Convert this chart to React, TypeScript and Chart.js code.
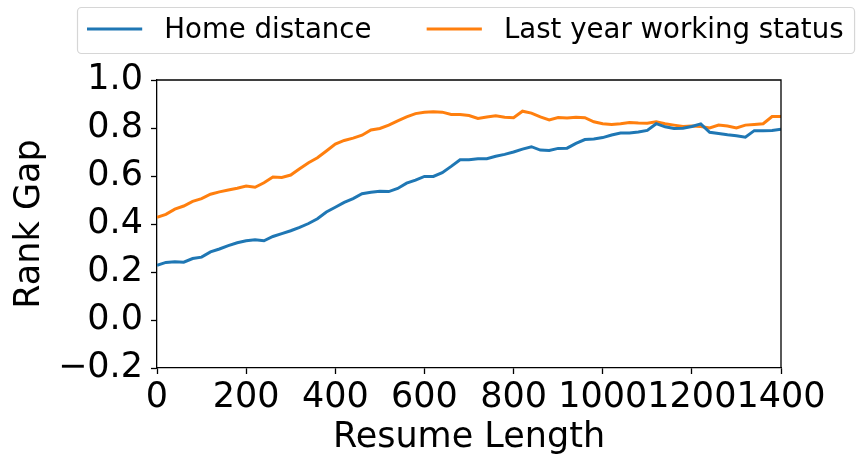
import React, { useEffect, useRef } from "react";
import { Chart, registerables } from "chart.js";

Chart.register(...registerables);

const RESUME_LENGTH = [
  0, 20, 40, 60, 80, 100, 120, 140, 160, 180, 200, 220, 240, 260, 280, 300, 320, 340, 360, 380,
  400, 420, 440, 460, 480, 500, 520, 540, 560, 580, 600, 620, 640, 660, 680, 700, 720, 740, 760, 780,
  800, 820, 840, 860, 880, 900, 920, 940, 960, 980, 1000, 1020, 1040, 1060, 1080, 1100, 1120, 1140, 1160, 1180,
  1200, 1220, 1240, 1260, 1280, 1300, 1320, 1340, 1360, 1380, 1400,
];

const HOME_DISTANCE = [
  0.228, 0.24, 0.243, 0.241, 0.256, 0.262, 0.284, 0.296, 0.31, 0.322, 0.33, 0.334, 0.33, 0.348, 0.36, 0.372, 0.386, 0.402, 0.422, 0.45,
  0.47, 0.49, 0.506, 0.526, 0.532, 0.536, 0.535, 0.548, 0.57, 0.583, 0.598, 0.598, 0.614, 0.64, 0.668, 0.668, 0.672, 0.672, 0.682, 0.69,
  0.7, 0.712, 0.722, 0.708, 0.706, 0.715, 0.716, 0.736, 0.752, 0.754, 0.76, 0.771, 0.779, 0.779, 0.783, 0.79, 0.818, 0.805, 0.798, 0.799,
  0.806, 0.817, 0.782, 0.777, 0.772, 0.768, 0.762, 0.789, 0.789, 0.79, 0.795,
];

const LAST_YEAR_WORKING = [
  0.428, 0.44, 0.462, 0.475, 0.494, 0.506, 0.524, 0.534, 0.542, 0.549, 0.558, 0.553, 0.572, 0.596, 0.594, 0.604, 0.63, 0.655, 0.676, 0.704,
  0.733, 0.748, 0.758, 0.77, 0.792, 0.798, 0.812, 0.83, 0.846, 0.86, 0.866, 0.868, 0.866, 0.856, 0.856, 0.852, 0.84, 0.846, 0.851, 0.845,
  0.843, 0.87, 0.862, 0.846, 0.834, 0.844, 0.842, 0.845, 0.843, 0.826, 0.818, 0.815, 0.818, 0.823, 0.821, 0.82, 0.826, 0.818, 0.812, 0.806,
  0.808, 0.806, 0.8, 0.812, 0.808, 0.8, 0.812, 0.815, 0.818, 0.848, 0.848,
];

const SERIES_NAMES = ["Home distance", "Last year working status"];
const SERIES_COLORS = ["#1f77b4", "#ff7f0e"];
const X_TITLE = "Resume Length";
const Y_TITLE = "Rank Gap";

const FONT = "'DejaVu Sans', sans-serif";

const framePlugin = {
  id: "frame",
  afterDraw(chart: any) {
    const { ctx, chartArea } = chart;
    ctx.save();
    ctx.strokeStyle = "#000";
    ctx.lineWidth = 1.3;
    ctx.beginPath();
    ctx.moveTo(chartArea.left, chartArea.top);
    ctx.lineTo(chartArea.right, chartArea.top);
    ctx.lineTo(chartArea.right, chartArea.bottom);
    ctx.stroke();
    ctx.restore();
  },
};

const legendPlugin = {
  id: "mplLegend",
  afterDraw(chart: any) {
    const ctx = chart.ctx;
    ctx.save();
    const fs = 27.6;
    ctx.font = `${fs}px ${FONT}`;
    const left = 77.5;
    const top = 7.5;
    const h = 46;
    const handle = 2 * fs;
    const textPad = 0.8 * fs;
    const colSpace = 2 * fs;
    let x = 87;
    const items: { x: number; tx: number; w: number }[] = [];
    SERIES_NAMES.forEach((name) => {
      const w = ctx.measureText(name).width;
      items.push({ x, tx: x + handle + textPad, w });
      x = x + handle + textPad + w + colSpace;
    });
    const last = items[items.length - 1];
    const right = last.tx + last.w + 0.4 * fs;
    ctx.beginPath();
    ctx.roundRect(left, top, right - left, h, 4);
    ctx.fillStyle = "rgba(255,255,255,0.8)";
    ctx.fill();
    ctx.strokeStyle = "#d6d6d6";
    ctx.lineWidth = 1.2;
    ctx.stroke();
    items.forEach((it, i) => {
      ctx.strokeStyle = SERIES_COLORS[i];
      ctx.lineWidth = 3;
      ctx.beginPath();
      ctx.moveTo(it.x, 29);
      ctx.lineTo(it.x + handle, 29);
      ctx.stroke();
      ctx.fillStyle = "#000";
      ctx.textBaseline = "alphabetic";
      ctx.textAlign = "left";
      ctx.fillText(SERIES_NAMES[i], it.tx, 37.5);
    });
    ctx.restore();
  },
};

export default function App() {
  const ref = useRef<HTMLCanvasElement | null>(null);
  useEffect(() => {
    if (!ref.current) return;
    const series = [HOME_DISTANCE, LAST_YEAR_WORKING];
    const chart = new Chart(ref.current, {
      type: "line",
      data: {
        datasets: series.map((vals, i) => ({
          label: SERIES_NAMES[i],
          data: RESUME_LENGTH.map((x, j) => ({ x, y: vals[j] })),
          borderColor: SERIES_COLORS[i],
          backgroundColor: SERIES_COLORS[i],
          borderWidth: 3,
          pointRadius: 0,
          tension: 0,
          fill: false,
        })),
      },
      options: {
        responsive: false,
        animation: false,
        layout: { padding: { top: 80, right: 75, left: 0, bottom: 0 } },
        plugins: { legend: { display: false }, tooltip: { enabled: false } },
        scales: {
          x: {
            type: "linear",
            min: 0,
            max: 1400,
            afterFit: (s: any) => {
              s.height = 91;
            },
            ticks: {
              stepSize: 200,
              autoSkip: false,
              maxRotation: 0,
              minRotation: 0,
              padding: 3,
              color: "#000",
              font: { family: FONT, size: 35 },
              callback: (v: any) => String(Math.round(Number(v))),
            },
            grid: { drawOnChartArea: false, drawTicks: true, tickLength: 6, color: "#000", tickWidth: 1.3 },
            border: { display: true, color: "#000", width: 1.3 },
            title: {
              display: true,
              text: X_TITLE,
              color: "#000",
              font: { family: FONT, size: 35 },
              padding: 0,
            },
          },
          y: {
            min: -0.2,
            max: 1.0,
            afterFit: (s: any) => {
              s.width = 157;
            },
            ticks: {
              stepSize: 0.2,
              padding: 8,
              color: "#000",
              font: { family: FONT, size: 35 },
              callback: (v: any) => {
                const n = Math.abs(Number(v)) < 1e-9 ? 0 : Number(v);
                return n.toFixed(1).replace("-", "\u2212");
              },
            },
            grid: { drawOnChartArea: false, drawTicks: true, tickLength: 6, color: "#000", tickWidth: 1.3 },
            border: { display: true, color: "#000", width: 1.3 },
            title: {
              display: true,
              text: Y_TITLE,
              color: "#000",
              font: { family: FONT, size: 35 },
              padding: 9,
            },
          },
        },
      },
      plugins: [framePlugin, legendPlugin],
    } as any);
    return () => chart.destroy();
  }, []);
  return (
    <div style={{ position: "absolute", left: 0, top: 0, width: 856, height: 459, background: "#fff" }}>
      <canvas ref={ref} width={856} height={459} />
    </div>
  );
}
